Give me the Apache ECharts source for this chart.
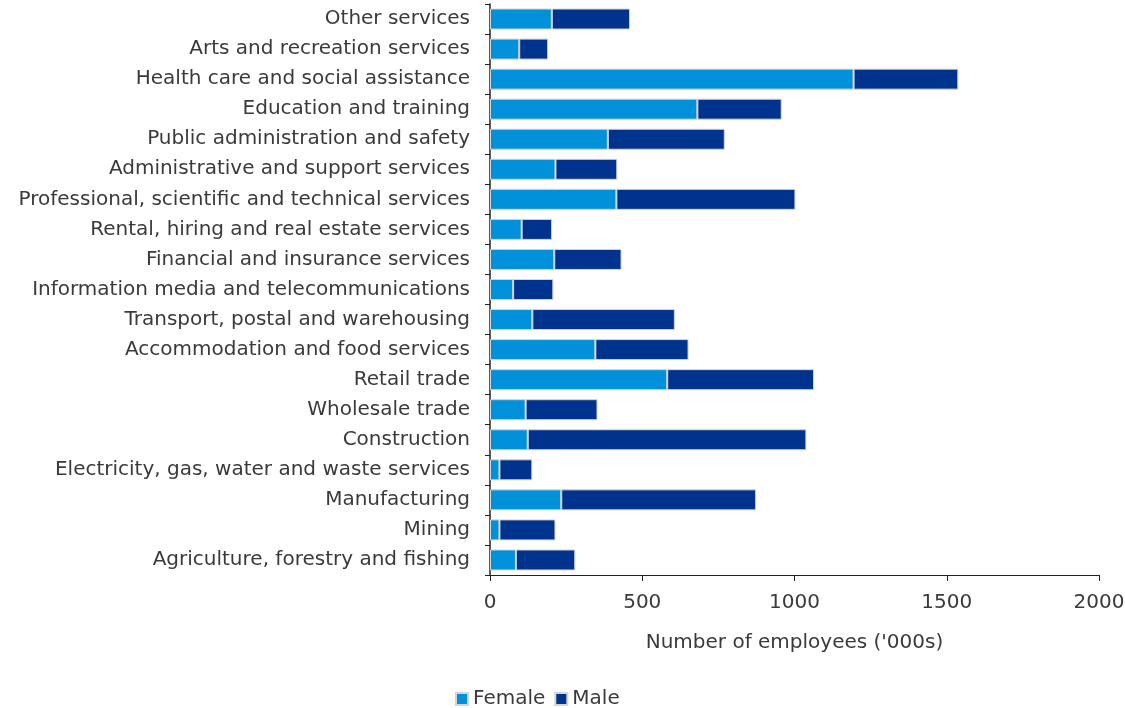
<!DOCTYPE html>
<html>
<head>
<meta charset="utf-8">
<script src="https://cdn.jsdelivr.net/npm/echarts@6/dist/echarts.min.js"></script>
<style>
  html, body { margin: 0; padding: 0; background: #fff; }
  #chart { width: 1125px; height: 708px; }
</style>
</head>
<body>
<div id="chart"></div>
<script>
// Categories, bottom to top (as the y axis draws them)
const industries = [
  'Agriculture, forestry and fishing',
  'Mining',
  'Manufacturing',
  'Electricity, gas, water and waste services',
  'Construction',
  'Wholesale trade',
  'Retail trade',
  'Accommodation and food services',
  'Transport, postal and warehousing',
  'Information media and telecommunications',
  'Financial and insurance services',
  'Rental, hiring and real estate services',
  'Professional, scientific and technical services',
  'Administrative and support services',
  'Public administration and safety',
  'Education and training',
  'Health care and social assistance',
  'Arts and recreation services',
  'Other services'
];

// Employees ('000s)
const female = [85, 31, 234, 31, 124, 117, 582, 346, 139, 76, 211, 104, 415, 215, 387, 681, 1194, 96, 203];
const male = [195, 184, 640, 108, 915, 236, 482, 306, 468, 132, 221, 100, 588, 203, 384, 277, 344, 95, 257];

const xTicks = { min: 0, max: 2000, interval: 500 };

const chart = echarts.init(document.getElementById('chart'));

const font = 'DejaVu Sans, sans-serif';
const fontSize = 20;
const textColor = '#3a3a3a';

const option = {
  animation: false,
  textStyle: { fontFamily: font },
  legend: {
    data: ['Female', 'Male'],
    left: 450,
    top: 684,
    itemWidth: 12,
    itemHeight: 12,
    itemGap: 9,
    icon: 'rect',
    textStyle: { fontSize: fontSize, color: textColor, fontFamily: font }
  },
  grid: {
    left: 490,
    right: 26,
    top: 4,
    bottom: 133,
    containLabel: false,
    outerBoundsMode: 'none'
  },
  xAxis: {
    type: 'value',
    min: xTicks.min,
    max: xTicks.max,
    interval: xTicks.interval,
    name: "Number of employees ('000s)",
    nameLocation: 'middle',
    nameGap: 58,
    nameTextStyle: { fontSize: fontSize, color: textColor, fontFamily: font },
    axisLine: { show: true, lineStyle: { color: '#222', width: 1 } },
    axisTick: { show: true, length: 6, lineStyle: { color: '#222' } },
    axisLabel: {
      fontSize: fontSize, color: textColor, margin: 18, fontFamily: font,
      formatter: function (v) { return String(v); }
    },
    splitLine: { show: false }
  },
  yAxis: {
    type: 'category',
    data: industries,
    axisLine: { show: true, lineStyle: { color: '#222', width: 1.5 } },
    axisTick: { show: true, length: 5, lineStyle: { color: '#222' } },
    axisLabel: { fontSize: fontSize, color: textColor, margin: 20, fontFamily: font },
    splitLine: { show: false }
  },
  series: [
    {
      name: 'Female',
      type: 'bar',
      stack: 'total',
      data: female,
      barWidth: 21,
      itemStyle: { color: '#0091DA', borderColor: '#d4d4d4', borderWidth: 1 }
    },
    {
      name: 'Male',
      type: 'bar',
      stack: 'total',
      data: male,
      barWidth: 21,
      itemStyle: { color: '#00338D', borderColor: '#d4d4d4', borderWidth: 1 }
    }
  ]
};

chart.setOption(option);
</script>
</body>
</html>
